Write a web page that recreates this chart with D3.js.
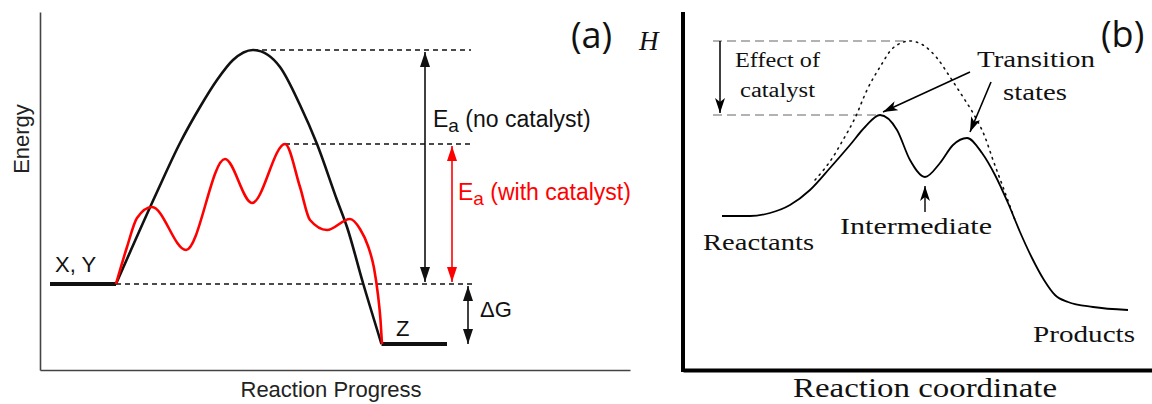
<!DOCTYPE html>
<html>
<head>
<meta charset="utf-8">
<script src="https://cdn.jsdelivr.net/npm/d3@7"></script>
<style>
  html, body { margin: 0; padding: 0; background: #fff; }
  svg { display: block; }
</style>
</head>
<body>
<svg id="chart" width="1152" height="404"></svg>
<script>
// ---- Panel (a): reaction progress vs energy ----
// [progress, energy] samples of the uncatalysed pathway (single barrier)
const uncatalyzedA = [[15.2,43],[23.4,89],[28,113.5],[32,131.5],[35.4,145],[38.6,155],[42.6,160],
  [45.6,157.5],[48,151.5],[52,132.5],[55.4,113],[59.4,85],[61.4,71.5],[64.6,43.5],[68.3,13]];
// [progress, energy] samples of the catalysed pathway (several small barriers)
const catalyzedA = [[15.2,43],[17.4,61.5],[19.4,76],[22.4,81.5],[29.2,60],[37,105.5],[42.4,83.5],
  [49,113],[52,91.5],[54,75],[57.4,70],[62,75.5],[64,70.5],[65.6,62],[66.8,51],[67.6,37.5],
  [68.1,25],[68.4,13]];
// reactant and product plateaus: [progress start, progress end, energy]
const reactantsA = [2, 15.2, 43];
const productsA = [68.3, 81.4, 13];
const levelLabelsA = ["X, Y", "Z"];

// ---- Panel (b): reaction coordinate vs enthalpy H ----
const catalyzedB = [[7.8,77],[13.4,77],[17.4,78.5],[21.4,82.5],[25.4,90],[29.4,101],[33.4,112.5],
  [36.4,121.5],[39.4,127.5],[42.8,120],[45.4,105],[48.4,96.5],[51.4,103.5],[54,112.5],[56.8,116],
  [59.8,108.5],[62.4,97.5],[65,83.5],[67.4,69],[69.8,56],[72.2,45],[74.4,37.5],[77,34],[82,31.5],[89,30]];
const uncatalyzedB = [[26.4,95],[30,106.5],[32,115],[34.4,126],[36.8,140],[39.4,151.5],[42,161],
  [45.4,164.5],[48,162.5],[50.8,156],[53.4,146.5],[56,136.5],[58,128.5],[60.4,116.5],[62,105],
  [64,91.5],[66.4,75]];

const svg = d3.select("#chart");

// scales
const xA = d3.scaleLinear().domain([0, 118]).range([40, 630]);
const yA = d3.scaleLinear().domain([0, 179]).range([370, 12]);
const xB = d3.scaleLinear().domain([0, 93.8]).range([683, 1152]);
const yB = d3.scaleLinear().domain([0, 179]).range([370, 12]);

// arrowheads
const defs = svg.append("defs");
function tri(id, color) {
  defs.append("marker").attr("id", id)
    .attr("viewBox", "0 -5 15 10").attr("refX", 15).attr("refY", 0)
    .attr("markerWidth", 15).attr("markerHeight", 10)
    .attr("markerUnits", "userSpaceOnUse").attr("orient", "auto-start-reverse")
    .append("path").attr("d", "M0,-5L15,0L0,5Z").attr("fill", color);
}
tri("arrA", "#111");
tri("arrRed", "#ff0000");
defs.append("marker").attr("id", "arrB")
  .attr("viewBox", "0 -5 15 10").attr("refX", 15).attr("refY", 0)
  .attr("markerWidth", 15).attr("markerHeight", 10)
  .attr("markerUnits", "userSpaceOnUse").attr("orient", "auto")
  .append("path").attr("d", "M0,-5L15,0L0,5L4,0Z").attr("fill", "#000");

// ================= Panel (a) =================
const gA = svg.append("g").attr("font-family", "'Liberation Sans', Arial, sans-serif");

// axes without ticks
gA.append("g").attr("transform", "translate(0,370)")
  .call(d3.axisBottom(xA).tickValues([]).tickSizeOuter(0))
  .select(".domain").attr("stroke", "#444").attr("stroke-width", 1.6);
gA.append("g").attr("transform", "translate(40,0)")
  .call(d3.axisLeft(yA).tickValues([]).tickSizeOuter(0))
  .select(".domain").attr("stroke", "#444").attr("stroke-width", 1.6);

const lineA = d3.line().x(d => xA(d[0])).y(d => yA(d[1])).curve(d3.curveMonotoneX);

const peakUn = uncatalyzedA.reduce((a, b) => (b[1] > a[1] ? b : a));
const peakCat = catalyzedA.reduce((a, b) => (b[1] > a[1] ? b : a));
const eX = 77, eRed = 82.4, eDG = 85.6; // progress positions of the bracket arrows

// dashed reference levels
const dashA = [
  [peakUn[0], 86.2, peakUn[1]],
  [peakCat[0], 86.8, peakCat[1]],
  [reactantsA[1], 86.8, reactantsA[2]]
];
gA.selectAll("line.dash").data(dashA).join("line").attr("class", "dash")
  .attr("x1", d => xA(d[0])).attr("x2", d => xA(d[1]))
  .attr("y1", d => yA(d[2])).attr("y2", d => yA(d[2]))
  .attr("stroke", "#111").attr("stroke-width", 1.5).attr("stroke-dasharray", "5,4");

// plateaus
gA.selectAll("line.level").data([reactantsA, productsA]).join("line").attr("class", "level")
  .attr("x1", d => xA(d[0])).attr("x2", d => xA(d[1]))
  .attr("y1", d => yA(d[2])).attr("y2", d => yA(d[2]))
  .attr("stroke", "#111").attr("stroke-width", 4);

// pathways
gA.append("path").datum(uncatalyzedA).attr("d", lineA)
  .attr("fill", "none").attr("stroke", "#111").attr("stroke-width", 2.6);
gA.append("path").datum(catalyzedA).attr("d", lineA)
  .attr("fill", "none").attr("stroke", "#ff0000").attr("stroke-width", 2.6);

// activation energy and ΔG brackets
gA.append("line")
  .attr("x1", xA(eX)).attr("x2", xA(eX))
  .attr("y1", yA(reactantsA[2]) - 2).attr("y2", yA(peakUn[1]) + 2)
  .attr("stroke", "#111").attr("stroke-width", 1.6)
  .attr("marker-start", "url(#arrA)").attr("marker-end", "url(#arrA)");
gA.append("line")
  .attr("x1", xA(eRed)).attr("x2", xA(eRed))
  .attr("y1", yA(reactantsA[2]) - 2).attr("y2", yA(peakCat[1]) + 2)
  .attr("stroke", "#ff0000").attr("stroke-width", 1.6)
  .attr("marker-start", "url(#arrRed)").attr("marker-end", "url(#arrRed)");
gA.append("line")
  .attr("x1", xA(eDG)).attr("x2", xA(eDG))
  .attr("y1", yA(reactantsA[2]) + 2).attr("y2", yA(productsA[2]))
  .attr("stroke", "#111").attr("stroke-width", 1.6)
  .attr("marker-start", "url(#arrA)").attr("marker-end", "url(#arrA)");

// labels
const t1 = gA.append("text").attr("x", 433).attr("y", 127).attr("font-size", 23).attr("fill", "#111");
t1.append("tspan").text("E");
t1.append("tspan").attr("dy", 5).attr("font-size", 19).text("a");
t1.append("tspan").attr("dy", -5).text(" (no catalyst)");
const t2 = gA.append("text").attr("x", 458).attr("y", 200).attr("font-size", 23).attr("fill", "#ff0000");
t2.append("tspan").text("E");
t2.append("tspan").attr("dy", 5).attr("font-size", 19).text("a");
t2.append("tspan").attr("dy", -5).text(" (with catalyst)");
gA.append("text").attr("x", 480).attr("y", 317).attr("font-size", 22).attr("fill", "#111").text("ΔG");
gA.append("text").attr("x", 55).attr("y", 272).attr("font-size", 22).attr("fill", "#111").text(levelLabelsA[0]);
gA.append("text").attr("x", 396).attr("y", 336).attr("font-size", 22).attr("fill", "#111").text(levelLabelsA[1]);
gA.append("text").attr("transform", "translate(29,139) rotate(-90)").attr("text-anchor", "middle")
  .attr("font-size", 22).attr("fill", "#222").text("Energy");
gA.append("text").attr("x", 331).attr("y", 397).attr("text-anchor", "middle")
  .attr("font-size", 22).attr("fill", "#222").text("Reaction Progress");
svg.append("text").attr("x", 571).attr("y", 48).attr("font-family", "'Open Sans', sans-serif")
  .attr("font-size", 36).attr("fill", "#111").text("(a)");

// ================= Panel (b) =================
const gB = svg.append("g").attr("font-family", "'Liberation Serif', 'Times New Roman', serif");

gB.append("line").attr("x1", 683).attr("x2", 683).attr("y1", 12).attr("y2", 372)
  .attr("stroke", "#000").attr("stroke-width", 4);
gB.append("g").attr("transform", "translate(0,370)")
  .call(d3.axisBottom(xB).tickValues([]).tickSizeOuter(0))
  .select(".domain").attr("stroke", "#000").attr("stroke-width", 4);

const lineB = d3.line().x(d => xB(d[0])).y(d => yB(d[1])).curve(d3.curveMonotoneX);

const topB = uncatalyzedB.reduce((a, b) => (b[1] > a[1] ? b : a));
// transition states and intermediate of the catalysed profile
const ts1 = catalyzedB[8], ts2 = catalyzedB[14], inter = catalyzedB[11];

// dashed guides showing the lowered barrier
gB.selectAll("line.guide").data([[topB[0], topB[1]], [ts1[0], ts1[1]]]).join("line").attr("class", "guide")
  .attr("x1", xB(6)).attr("x2", d => xB(d[0]))
  .attr("y1", d => yB(d[1])).attr("y2", d => yB(d[1]))
  .attr("stroke", "#999").attr("stroke-width", 1.3).attr("stroke-dasharray", "9,5");

gB.append("path").datum(uncatalyzedB).attr("d", lineB)
  .attr("fill", "none").attr("stroke", "#111").attr("stroke-width", 1.6)
  .attr("stroke-dasharray", "1.4,5").attr("stroke-linecap", "round");
gB.append("path").datum(catalyzedB).attr("d", lineB)
  .attr("fill", "none").attr("stroke", "#000").attr("stroke-width", 1.8);

// "effect of catalyst" arrow
gB.append("line").attr("x1", xB(7.4)).attr("x2", xB(7.4))
  .attr("y1", yB(topB[1])).attr("y2", yB(ts1[1]) - 2)
  .attr("stroke", "#000").attr("stroke-width", 1.5).attr("marker-end", "url(#arrB)");

// pointers to transition states and intermediate
gB.append("line").attr("x1", 970).attr("y1", 72)
  .attr("x2", xB(ts1[0]) + 3).attr("y2", yB(ts1[1]) - 3)
  .attr("stroke", "#000").attr("stroke-width", 1.6).attr("marker-end", "url(#arrB)");
gB.append("line").attr("x1", 991).attr("y1", 82)
  .attr("x2", xB(ts2[0]) + 3).attr("y2", yB(ts2[1]) - 6)
  .attr("stroke", "#000").attr("stroke-width", 1.6).attr("marker-end", "url(#arrB)");
gB.append("line").attr("x1", xB(inter[0])).attr("y1", 212)
  .attr("x2", xB(inter[0])).attr("y2", yB(inter[1]) + 9)
  .attr("stroke", "#000").attr("stroke-width", 1.4).attr("marker-end", "url(#arrB)");

// labels (wide old-style serif)
const labelsB = [
  ["Effect of", 735, 67, 85, 20],
  ["catalyst", 740, 97, 75, 20],
  ["Transition", 977, 67, 118, 23],
  ["states", 1003, 100, 64, 23],
  ["Intermediate", 840, 234, 152, 23],
  ["Reactants", 703, 250, 111, 23],
  ["Products", 1033, 342, 102, 23],
  ["Reaction coordinate", 793, 397, 264, 27]
];
gB.selectAll("text.lbl").data(labelsB).join("text").attr("class", "lbl")
  .attr("x", d => d[1]).attr("y", d => d[2])
  .attr("textLength", d => d[3]).attr("lengthAdjust", "spacingAndGlyphs")
  .attr("font-size", d => d[4]).attr("fill", "#111").text(d => d[0]);

svg.append("text").attr("x", 639).attr("y", 50).attr("font-family", "'Liberation Serif', serif")
  .attr("font-style", "italic").attr("font-size", 27).attr("fill", "#111").text("H");
svg.append("text").attr("x", 1101).attr("y", 47).attr("font-family", "'Open Sans', sans-serif")
  .attr("font-size", 36).attr("fill", "#111").text("(b)");
</script>
</body>
</html>
